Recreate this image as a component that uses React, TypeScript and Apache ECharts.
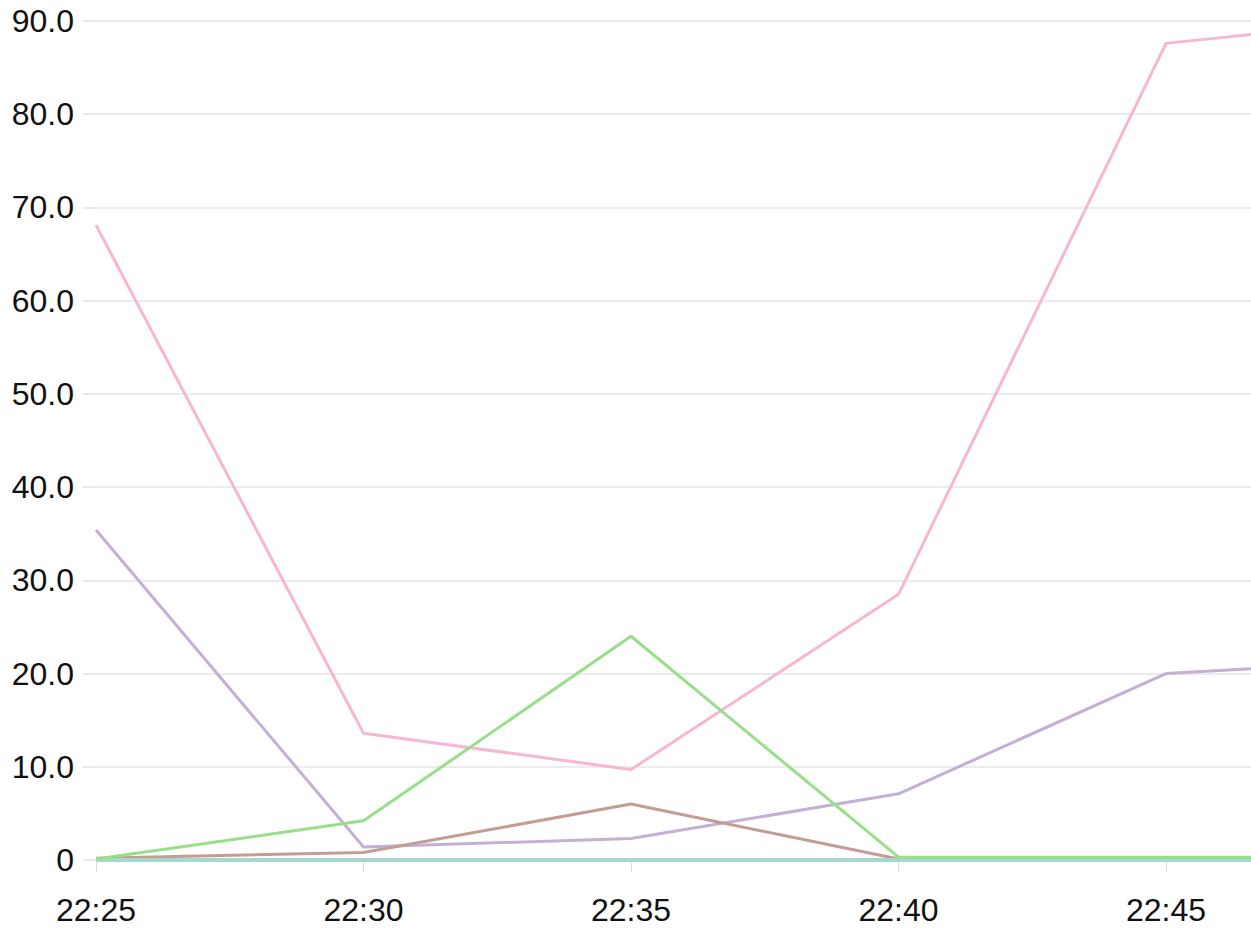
import React, { useEffect, useRef } from "react";
import * as echarts from "echarts";

const categories = ["22:25", "22:30", "22:35", "22:40", "22:45", "22:50"];
const pinkValues = [68.1, 13.6, 9.7, 28.5, 87.6, 90.6];
const purpleValues = [35.4, 1.4, 2.3, 7.1, 20.0, 21.6];
const greenValues = [0.1, 4.2, 24.0, 0.3, 0.3, 0.3];
const brownValues = [0.2, 0.8, 6.0, 0.1, 0.1, 0.1];
const tealValues = [0, 0, 0, 0, 0, 0];
const yTicks = { min: 0, max: 90, interval: 10 };

export default function App() {
  const ref = useRef<HTMLDivElement>(null);
  useEffect(() => {
    document.body.style.margin = "0";
    const chart = echarts.init(ref.current!, null, { renderer: "svg" });
    const mk = (name: string, data: number[], color: string, width: number) => ({
      name,
      type: "line",
      data,
      symbol: "none",
      lineStyle: { color, width },
      itemStyle: { color },
      clip: true,
    });
    chart.setOption({
      animation: false,
      backgroundColor: "#ffffff",
      grid: { left: 96, top: 21, right: 6.5, height: 839 },
      xAxis: {
        type: "category",
        data: categories,
        boundaryGap: false,
        axisLine: { show: false },
        axisTick: { show: true, length: 12, lineStyle: { color: "#dddddd", width: 1 }, interval: 0 },
        axisLabel: {
          margin: 34,
          fontSize: 32,
          fontFamily: "Liberation Sans, Arial, sans-serif",
          color: "#111111",
          interval: (i: number) => i < categories.length - 1,
        },
        splitLine: { show: false },
      },
      yAxis: {
        type: "value",
        min: yTicks.min,
        max: yTicks.max,
        interval: yTicks.interval,
        axisLine: { show: false },
        axisTick: { show: true, length: 13, lineStyle: { color: "#e8e8e8", width: 2 } },
        axisLabel: {
          margin: 22,
          fontSize: 32,
          fontFamily: "Liberation Sans, Arial, sans-serif",
          color: "#111111",
          formatter: (v: number) => (v === 0 ? "0" : v.toFixed(1)),
        },
        splitLine: { show: true, lineStyle: { color: "#ececec", width: 2 } },
      },
      series: [
        mk("pink", pinkValues, "#f7b6d2", 3),
        mk("purple", purpleValues, "#c5b0d5", 3),
        mk("brown", brownValues, "#c49c94", 3),
        mk("teal", tealValues, "#a5d9cf", 4),
        mk("green", greenValues, "#98df8a", 3),
      ],
    });
    return () => chart.dispose();
  }, []);
  return (
    <div style={{ width: 1251, height: 928, overflow: "hidden" }}>
      <div ref={ref} style={{ width: 1440, height: 928 }} />
    </div>
  );
}
